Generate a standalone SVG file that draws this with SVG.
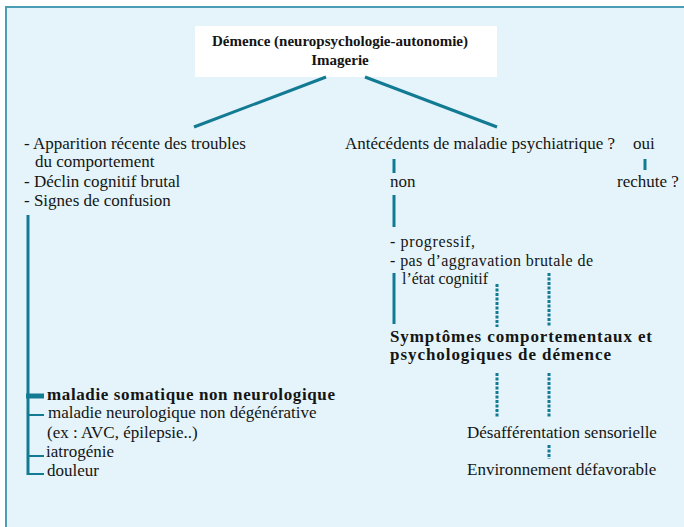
<svg xmlns="http://www.w3.org/2000/svg" width="684" height="527" viewBox="0 0 684 527">
<style>
text{font-family:"Liberation Serif","Times New Roman",serif;fill:#141414;font-size:17px}
.b{font-weight:bold}
.t{font-size:15px;font-weight:bold}
.s{font-size:17px;font-weight:bold}
.p{font-size:16px}
.ln{stroke:#137a93;stroke-width:3;fill:none}
.th{stroke:#137a93;stroke-width:2;fill:none}
.ds{stroke:#137a93;stroke-width:3;fill:none;stroke-dasharray:3 1.5}
</style>
<rect x="0" y="0" width="684" height="527" fill="#ffffff"/>
<rect x="6" y="7" width="690" height="540" fill="#e4f4fa" stroke="#4a9db5" stroke-width="2"/>
<g id="title">
<rect x="195" y="26" width="302" height="51" fill="#ffffff"/>
<text class="t" x="340" y="46" text-anchor="middle">Démence (neuropsychologie-autonomie)</text>
<text class="t" x="340" y="65" text-anchor="middle">Imagerie</text>
</g>
<g id="connectors">
<line class="ln" x1="326" y1="77" x2="194" y2="127"/>
<line class="ln" x1="365" y1="77" x2="497" y2="127"/>
<line class="ln" x1="28" y1="215" x2="28" y2="475"/>
<line x1="26" y1="396" x2="44" y2="396" stroke="#137a93" stroke-width="5"/>
<line class="th" x1="28" y1="415" x2="44" y2="415"/>
<line class="th" x1="28" y1="456" x2="44" y2="456"/>
<line class="th" x1="28" y1="474" x2="44" y2="474"/>
<line class="ln" x1="394" y1="159" x2="394" y2="173"/>
<line class="ln" x1="645" y1="159" x2="645" y2="170"/>
<line class="ln" x1="394" y1="195" x2="394" y2="227"/>
<line class="ln" x1="394" y1="273" x2="394" y2="324"/>
<line class="ds" x1="497" y1="284" x2="497" y2="327"/>
<line class="ds" x1="549" y1="273" x2="549" y2="327"/>
<line class="ds" x1="497" y1="373" x2="497" y2="418"/>
<line class="ds" x1="549" y1="373" x2="549" y2="418"/>
<line class="ds" x1="549" y1="445" x2="549" y2="459"/>
</g>
<g id="left-criteria">
<text x="24" y="149">- Apparition récente des troubles</text>
<text x="35" y="167">du comportement</text>
<text x="24" y="187">- Déclin cognitif brutal</text>
<text x="24" y="206">- Signes de confusion</text>
</g>
<g id="left-causes">
<text class="b" x="47" y="400" textLength="288" lengthAdjust="spacing">maladie somatique non neurologique</text>
<text x="48" y="418">maladie neurologique non dégénérative</text>
<text x="47" y="438">(ex : AVC, épilepsie..)</text>
<text x="46" y="457">iatrogénie</text>
<text x="47" y="476">douleur</text>
</g>
<g id="antecedents">
<text x="345" y="149">Antécédents de maladie psychiatrique ?</text>
<text x="633" y="149">oui</text>
</g>
<g id="non"><text x="390" y="187">non</text></g>
<g id="rechute"><text x="617" y="187">rechute ?</text></g>
<g id="progressif">
<text class="p" x="390" y="247" textLength="85" lengthAdjust="spacing">- progressif,</text>
<text class="p" x="390" y="266" textLength="203" lengthAdjust="spacing">- pas d’aggravation brutale de</text>
<text class="p" x="402" y="284" textLength="86" lengthAdjust="spacing">l’état cognitif</text>
</g>
<g id="sCPD">
<text class="s" x="390" y="342" textLength="262" lengthAdjust="spacing">Symptômes comportementaux et</text>
<text class="s" x="390" y="360" textLength="221" lengthAdjust="spacing">psychologiques de démence</text>
</g>
<g id="desafferentation"><text x="467" y="438">Désafférentation sensorielle</text></g>
<g id="environnement"><text x="467" y="475">Environnement défavorable</text></g>
</svg>
